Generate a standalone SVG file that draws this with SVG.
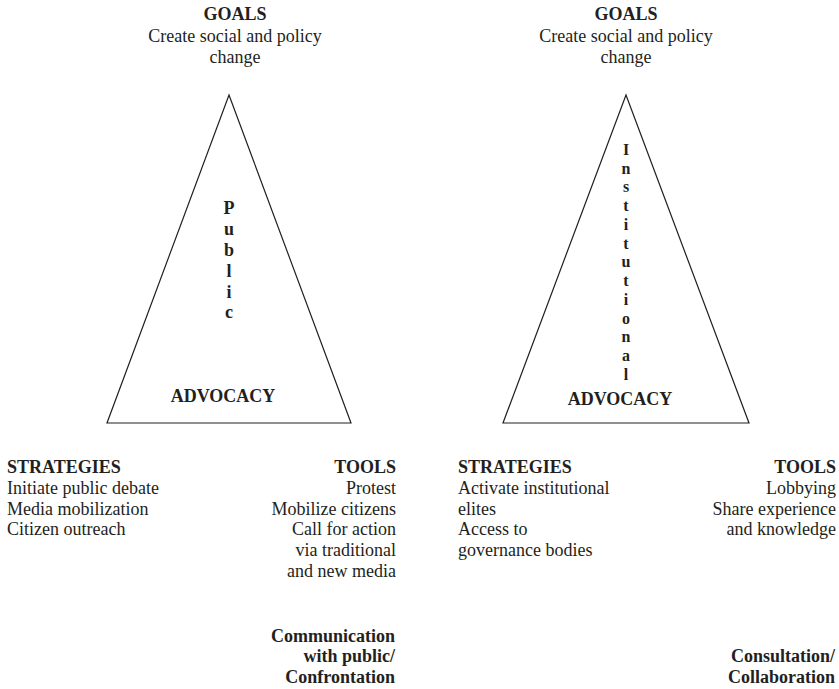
<svg xmlns="http://www.w3.org/2000/svg" width="839" height="689" viewBox="0 0 839 689">
<style>
text{font-family:"Liberation Serif","Times New Roman",serif;font-size:18px;fill:#231f20}
.b{font-weight:bold}
.m{text-anchor:middle}
.e{text-anchor:end}
.v{font-size:16px}
.tri{fill:#fff;stroke:#231f20;stroke-width:1.2}
</style>
<rect width="839" height="689" fill="#fff"/>
<g id="connectors"/>
<g id="left-goals">
<text class="b m" x="235" y="20">GOALS</text>
<text class="m" x="235" y="42">Create social and policy</text>
<text class="m" x="235" y="63">change</text>
</g>
<g id="left-triangle">
<polygon class="tri" points="229,95 351,423 107,423"/>
<text class="b m" x="229" y="214">P</text>
<text class="b m" x="229" y="235">u</text>
<text class="b m" x="229" y="256">b</text>
<text class="b m" x="229" y="277">l</text>
<text class="b m" x="229" y="298">i</text>
<text class="b m" x="229" y="318">c</text>
<text class="b m" x="223" y="402">ADVOCACY</text>
</g>
<g id="left-strategies">
<text class="b" x="7" y="473">STRATEGIES</text>
<text x="7" y="494">Initiate public debate</text>
<text x="7" y="515">Media mobilization</text>
<text x="7" y="535">Citizen outreach</text>
</g>
<g id="left-tools">
<text class="b e" x="396" y="473">TOOLS</text>
<text class="e" x="396" y="494">Protest</text>
<text class="e" x="396" y="515">Mobilize citizens</text>
<text class="e" x="396" y="535">Call for action</text>
<text class="e" x="396" y="556">via traditional</text>
<text class="e" x="396" y="577">and new media</text>
</g>
<g id="left-mode">
<text class="b e" x="395" y="642">Communication</text>
<text class="b e" x="395" y="662">with public/</text>
<text class="b e" x="395" y="683">Confrontation</text>
</g>
<g id="right-goals">
<text class="b m" x="626" y="20">GOALS</text>
<text class="m" x="626" y="42">Create social and policy</text>
<text class="m" x="626" y="63">change</text>
</g>
<g id="right-triangle">
<polygon class="tri" points="626,95 749,423 503,423"/>
<text class="b m v" x="626" y="155">I</text>
<text class="b m v" x="626" y="174">n</text>
<text class="b m v" x="626" y="192">s</text>
<text class="b m v" x="626" y="211">t</text>
<text class="b m v" x="626" y="230">i</text>
<text class="b m v" x="626" y="249">t</text>
<text class="b m v" x="626" y="267">u</text>
<text class="b m v" x="626" y="286">t</text>
<text class="b m v" x="626" y="305">i</text>
<text class="b m v" x="626" y="324">o</text>
<text class="b m v" x="626" y="342">n</text>
<text class="b m v" x="626" y="361">a</text>
<text class="b m v" x="626" y="380">l</text>
<text class="b m" x="620" y="405">ADVOCACY</text>
</g>
<g id="right-strategies">
<text class="b" x="458" y="473">STRATEGIES</text>
<text x="458" y="494">Activate institutional</text>
<text x="458" y="515">elites</text>
<text x="458" y="535">Access to</text>
<text x="458" y="556">governance bodies</text>
</g>
<g id="right-tools">
<text class="b e" x="836" y="473">TOOLS</text>
<text class="e" x="836" y="494">Lobbying</text>
<text class="e" x="836" y="515">Share experience</text>
<text class="e" x="836" y="535">and knowledge</text>
</g>
<g id="right-mode">
<text class="b e" x="835" y="662">Consultation/</text>
<text class="b e" x="835" y="683">Collaboration</text>
</g>
</svg>
